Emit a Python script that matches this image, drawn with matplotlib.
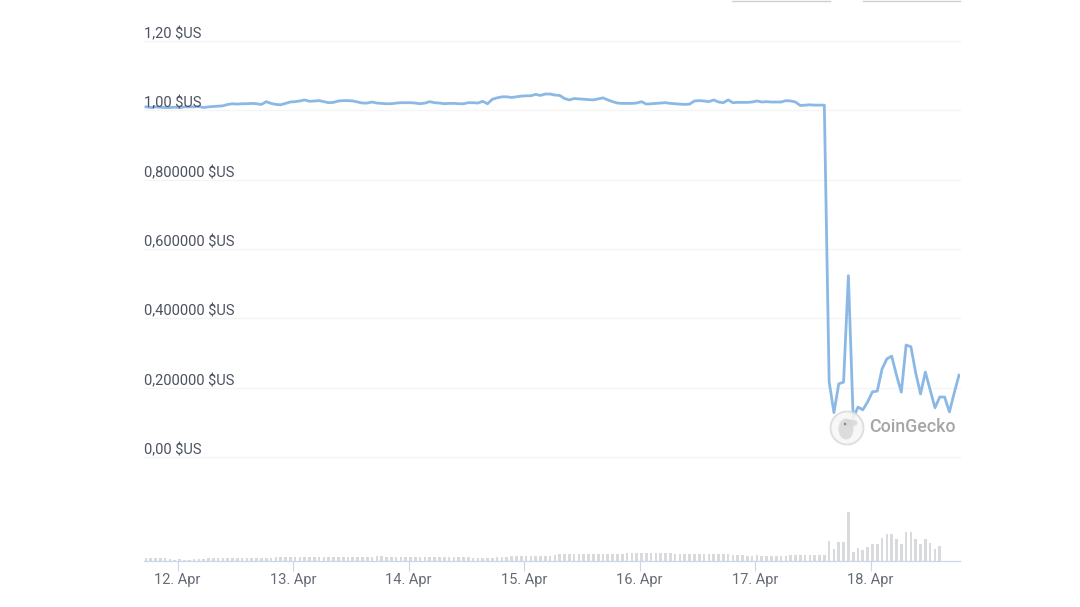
import pandas as pd
from matplotlib import pyplot as plt
from matplotlib import dates as mdates
from matplotlib.lines import Line2D
from matplotlib.patches import Circle, Ellipse

plt.rcParams['font.family'] = ['Roboto', 'DejaVu Sans']

W = 1080
H = 607

# hourly price, starts 11 Apr 17:24
price_before = [
    1.010, 1.008, 1.010, 1.009, 1.008, 1.008, 1.009, 1.008, 1.010, 1.010,
    1.010, 1.011, 1.008, 1.010, 1.011, 1.012, 1.013, 1.017, 1.019, 1.018,
    1.019, 1.019, 1.020, 1.019, 1.017, 1.025, 1.020, 1.017, 1.016, 1.020,
    1.024, 1.025, 1.027, 1.030, 1.026, 1.027, 1.028, 1.025, 1.022, 1.023,
    1.027, 1.028, 1.028, 1.027, 1.024, 1.021, 1.021, 1.024, 1.021, 1.020,
    1.019, 1.019, 1.021, 1.022, 1.022, 1.022, 1.021, 1.019, 1.021, 1.025,
    1.022, 1.021, 1.019, 1.020, 1.020, 1.019, 1.019, 1.022, 1.022, 1.021,
    1.026, 1.019, 1.032, 1.036, 1.039, 1.039, 1.037, 1.039, 1.041, 1.042,
    1.042, 1.046, 1.043, 1.047, 1.047, 1.044, 1.043, 1.034, 1.030, 1.034,
    1.033, 1.032, 1.031, 1.030, 1.033, 1.036, 1.030, 1.025, 1.021, 1.020,
    1.020, 1.020, 1.021, 1.025, 1.018, 1.019, 1.020, 1.021, 1.022, 1.020,
    1.019, 1.018, 1.017, 1.018, 1.027, 1.028, 1.027, 1.025, 1.030, 1.024,
    1.022, 1.030, 1.022, 1.023, 1.023, 1.023, 1.024, 1.027, 1.024, 1.025,
    1.024, 1.024, 1.024, 1.028, 1.027, 1.024, 1.014, 1.015, 1.016, 1.015,
    1.015, 1.015,
]
price_after = [
    0.217, 0.128, 0.211, 0.216, 0.523, 0.112, 0.144, 0.136, 0.159, 0.188,
    0.190, 0.254, 0.283, 0.291, 0.236, 0.187, 0.323, 0.318, 0.242, 0.182,
    0.245, 0.193, 0.142, 0.173, 0.173, 0.130, 0.185, 0.236,
]
price = price_before + price_after

# volume, same hours, no bars for the last four
volume = [
    2.7, 3.0, 2.8, 3.0, 2.5, 1.5, 1.0, 1.5, 1.0, 1.0,
    1.5, 1.5, 2.0, 2.5, 2.5, 2.8, 2.8, 2.8, 2.8, 2.5,
    2.8, 2.5, 2.8, 2.8, 2.5, 2.8, 3.0, 3.5, 3.5, 3.5,
    3.8, 3.5, 3.5, 3.8, 3.5, 3.5, 3.5, 3.3, 3.5, 3.3,
    3.5, 3.3, 3.5, 3.3, 3.5, 3.3, 3.5, 3.5, 5.0, 4.5,
    3.5, 3.5, 3.3, 3.5, 3.5, 3.5, 3.5, 3.3, 3.5, 3.5,
    3.5, 3.5, 3.5, 3.5, 3.3, 3.5, 3.3, 3.5, 3.0, 2.8,
    2.5, 2.5, 3.0, 3.5, 3.5, 4.0, 4.5, 4.5, 4.5, 4.5,
    4.5, 4.5, 4.5, 5.0, 5.0, 5.5, 6.5, 6.5, 6.5, 6.5,
    6.5, 6.5, 6.5, 7.0, 7.0, 6.5, 6.5, 7.0, 7.0, 7.0,
    7.5, 7.5, 7.5, 7.5, 8.0, 8.0, 8.0, 7.5, 7.5, 7.5,
    7.0, 6.5, 6.5, 6.5, 6.5, 6.5, 6.5, 6.5, 6.5, 6.5,
    6.5, 6.5, 6.0, 6.0, 5.5, 5.0, 5.0, 5.5, 5.0, 5.0,
    5.0, 5.0, 5.0, 5.0, 5.5, 5.5, 6.0, 6.0, 6.0, 6.0,
    6.0, 6.0, 20.0, 11.7, 19.0, 19.0, 49.0, 9.0, 12.7, 11.0,
    14.0, 16.7, 16.7, 22.7, 26.7, 26.7, 21.7, 16.7, 29.0, 29.0,
    21.7, 16.7, 21.7, 18.0, 11.7, 15.0,
]

price_ticks = [0.0, 0.2, 0.4, 0.6, 0.8, 1.0, 1.2]
price_labels = ['0,00 $US', '0,200000 $US', '0,400000 $US', '0,600000 $US',
                '0,800000 $US', '1,00 $US', '1,20 $US']

START = '2022-04-11 17:24'


def px_axes(fig, x0, x1, y_top, y_bottom):
    # axes placed by pixel edges, y counted from the top
    return fig.add_axes([x0 / W, 1 - y_bottom / H, (x1 - x0) / W, (y_bottom - y_top) / H])


fig = plt.figure(figsize=(W / 100, H / 100), dpi=100, facecolor='white')

times = pd.date_range(START, periods=len(price), freq='h')
xmin = pd.Timestamp('2022-04-11 17:00')
xmax = pd.Timestamp('2022-04-18 18:36')

# price panel
ax = px_axes(fig, 144, 960, 41, 457)
ax.set_xlim(xmin, xmax)
ax.set_ylim(0, 1.2)
for tick in price_ticks:
    ax.axhline(tick, color='#f4f4f4', lw=0.9, zorder=1, clip_on=False)
ax.plot(times, price, color='#8cb8e6', lw=2.0, solid_joinstyle='round', zorder=3)
for tick, label in zip(price_ticks, price_labels):
    ax.annotate(label, xy=(0, tick), xycoords=('axes fraction', 'data'),
                xytext=(0, 5.0), textcoords='offset points', ha='left', va='center',
                fontsize=10.55, color='#4b5160', zorder=4)
ax.axis('off')

# volume panel
vol = px_axes(fig, 144, 960, 500, 560.5)
vol.set_xlim(xmin, xmax)
vol.set_ylim(0, 60.5)
vol.bar(times[:len(volume)], volume, width=0.55 / 24, color='#d8dade')
for side in ['top', 'left', 'right']:
    vol.spines[side].set_visible(False)
vol.spines['bottom'].set_color('#ccd6eb')
vol.spines['bottom'].set_linewidth(0.9)
vol.set_yticks([])
vol.xaxis.set_major_locator(mdates.DayLocator())
vol.xaxis.set_major_formatter(mdates.DateFormatter('%-d. %b'))
vol.tick_params(axis='x', length=7.5, width=0.8, color='#ccd6eb', labelcolor='#666b75',
                labelsize=10.5, pad=1.5)
vol.patch.set_alpha(0)

# watermark and the cut-off buttons, in pixel coords
over = px_axes(fig, 0, W, 0, H)
over.set_xlim(0, W)
over.set_ylim(H, 0)
over.axis('off')
over.patch.set_alpha(0)
over.add_patch(Circle((847, 428), 16.5, fc='#f7f7f7', ec='#dcdcdc', lw=1.4, alpha=0.9))
over.add_patch(Ellipse((846, 429), 15, 21, fc='#d9d9d9', ec='none', alpha=0.9))
over.add_patch(Ellipse((851, 423), 13, 7, fc='#d9d9d9', ec='none', alpha=0.9))
over.add_patch(Circle((845, 424), 1.3, fc='#8a8a8a', ec='none'))
over.text(869.5, 427, 'CoinGecko', fontsize=12.8, color='#a6a6a6', weight='medium',
          ha='left', va='center')
fig.add_artist(Line2D([732 / W, 830 / W], [1 - 0.5 / H, 1 - 0.5 / H], color='#d0d0d0', lw=1.0))
fig.add_artist(Line2D([863 / W, 960 / W], [1 - 0.5 / H, 1 - 0.5 / H], color='#d0d0d0', lw=1.0))

fig.savefig('out.png', dpi=100)
